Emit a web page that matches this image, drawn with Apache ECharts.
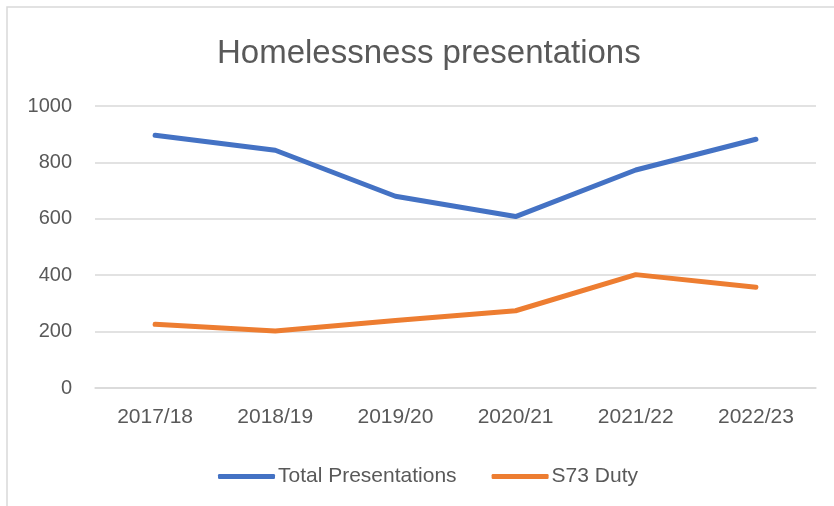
<!DOCTYPE html>
<html>
<head>
<meta charset="utf-8">
<script src="https://cdn.jsdelivr.net/npm/echarts@6/dist/echarts.min.js"></script>
<style>
  html, body { margin: 0; padding: 0; background: #fff; }
  #chart { width: 834px; height: 506px; }
</style>
</head>
<body>
<div id="chart"></div>
<script>
const years = ['2017/18', '2018/19', '2019/20', '2020/21', '2021/22', '2022/23'];
const totalPresentations = [896, 843, 680, 608, 773, 882];
const s73Duty = [226, 202, 239, 274, 402, 357];
const yTicks = { min: 0, max: 1000, step: 200 };

const font = '"Liberation Sans", Arial, sans-serif';
const textColor = '#595959';

document.addEventListener('DOMContentLoaded', () => {
  const chart = echarts.init(document.getElementById('chart'));

  const option = {
    backgroundColor: '#fff',
    animation: false,
    graphic: [{
      type: 'rect',
      shape: { x: 7, y: 7, width: 900, height: 600 },
      style: { fill: 'none', stroke: '#d9d9d9', lineWidth: 1.5 },
      silent: true
    }],
    title: {
      text: 'Homelessness presentations',
      left: 212,
      top: 32,
      textStyle: { fontFamily: font, fontSize: 33, fontWeight: 'normal', color: textColor }
    },
    legend: {
      left: 213,
      top: 461,
      icon: 'roundRect',
      itemWidth: 57,
      itemHeight: 5,
      itemGap: 35,
      textStyle: { fontFamily: font, fontSize: 21, color: textColor, padding: [0, 0, 0, -2] },
      data: ['Total Presentations', 'S73 Duty']
    },
    grid: { left: 95, right: 18, top: 106, bottom: 118, containLabel: false },
    xAxis: {
      type: 'category',
      data: years,
      boundaryGap: true,
      axisLine: { show: true, lineStyle: { color: '#d9d9d9', width: 1.5 } },
      axisTick: { show: false },
      axisLabel: { margin: 19, fontFamily: font, fontSize: 21, color: textColor }
    },
    yAxis: {
      type: 'value',
      min: yTicks.min,
      max: yTicks.max,
      interval: yTicks.step,
      axisLine: { show: false },
      axisTick: { show: false },
      splitLine: { lineStyle: { color: '#d9d9d9', width: 1.5 } },
      axisLabel: {
        margin: 23,
        fontFamily: font,
        fontSize: 20,
        color: textColor,
        formatter: v => String(v)
      }
    },
    series: [
      {
        name: 'Total Presentations',
        type: 'line',
        data: totalPresentations,
        symbol: 'none',
        itemStyle: { color: '#4472C4' },
        lineStyle: { color: '#4472C4', width: 5, cap: 'round', join: 'round' }
      },
      {
        name: 'S73 Duty',
        type: 'line',
        data: s73Duty,
        symbol: 'none',
        itemStyle: { color: '#ED7D31' },
        lineStyle: { color: '#ED7D31', width: 5, cap: 'round', join: 'round' }
      }
    ]
  };

  chart.setOption(option);
});
</script>
</body>
</html>
